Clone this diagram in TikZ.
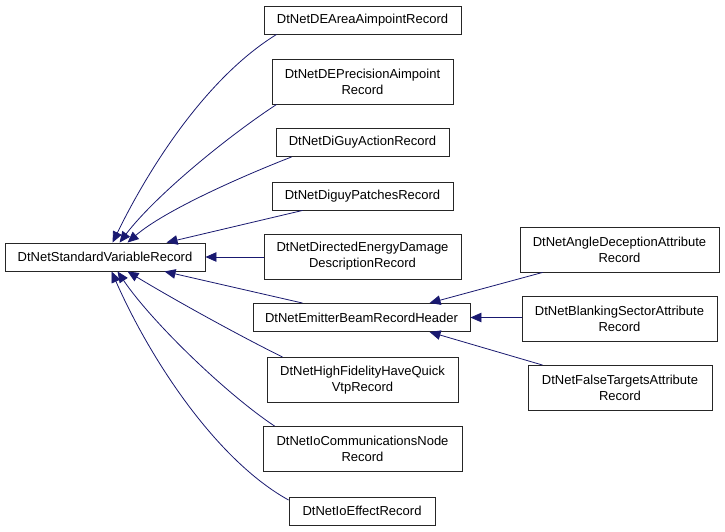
\documentclass[tikz,border=0pt]{standalone}
\usepackage{fontspec}
\setmainfont{Liberation Sans}
\usetikzlibrary{arrows.meta,calc}
\definecolor{edgeblue}{RGB}{25,25,112}
\tikzset{
  box/.style={draw=black!85, line width=0.9pt, fill=white, inner sep=0pt, align=center,
    font=\fontsize{13}{16}\selectfont},
  one/.style={minimum height=28pt},
  two/.style={minimum height=45pt},
  inh/.style={draw=edgeblue, line width=0.8pt, -{Triangle[length=11pt,width=9.5pt]}, fill=none},
}
\begin{document}
\begin{tikzpicture}[x=1pt,y=-1pt]
\useasboundingbox (0,0) rectangle (725,531);
\fill[white] (0,0) rectangle (725,531);
% nodes
\node[box,one,minimum width=200pt] (root) at (105,257) {DtNetStandardVariableRecord};
\node[box,one,minimum width=197pt] (dearea) at (362.5,20) {DtNetDEAreaAimpointRecord};
\node[box,two,minimum width=181pt] (deprec) at (362.5,81.5) {DtNetDEPrecisionAimpoint\\Record};
\node[box,one,minimum width=173pt] (diguy) at (362.5,142.5) {DtNetDiGuyActionRecord};
\node[box,one,minimum width=181pt] (patches) at (362.5,196) {DtNetDiguyPatchesRecord};
\node[box,two,minimum width=197pt] (directed) at (362.5,256.5) {DtNetDirectedEnergyDamage\\DescriptionRecord};
\node[box,one,minimum width=217pt] (emitter) at (361.5,317.5) {DtNetEmitterBeamRecordHeader};
\node[box,two,minimum width=191pt] (highfid) at (362.5,380) {DtNetHighFidelityHaveQuick\\VtpRecord};
\node[box,two,minimum width=199pt] (iocomm) at (362.5,449) {DtNetIoCommunicationsNode\\Record};
\node[box,one,minimum width=146pt] (ioeffect) at (362,511) {DtNetIoEffectRecord};
\node[box,two,minimum width=199pt] (angle) at (619.5,249.5) {DtNetAngleDeceptionAttribute\\Record};
\node[box,two,minimum width=195pt] (blank) at (619.5,318.5) {DtNetBlankingSectorAttribute\\Record};
\node[box,two,minimum width=184pt] (false) at (620,388) {DtNetFalseTargetsAttribute\\Record};
% edges
\draw[inh] ($(dearea.south west)+(13,0)$) .. controls (209,76) and (152,162) .. ($(root.north west)+(108,0)$);
\draw[inh] ($(deprec.south west)+(5,0)$) .. controls (227,137) and (156,195) .. ($(root.north west)+(115,0)$);
\draw[inh] ($(diguy.south west)+(16,0)$) .. controls (245,175) and (165,210) .. ($(root.north west)+(123,0)$);
\draw[inh] ($(patches.south west)+(31,0)$) -- ($(root.north west)+(162,0)$);
\draw[inh] (directed.west |- root.east) -- (root.east);
\draw[inh] ($(emitter.north west)+(50,0)$) -- ($(root.south west)+(160,0)$);
\draw[inh] ($(highfid.north west)+(16,0)$) .. controls (238,335) and (173,299) .. ($(root.south west)+(123,0)$);
\draw[inh] ($(iocomm.north west)+(12,0)$) .. controls (225,393) and (151,321) .. ($(root.south west)+(113,0)$);
\draw[inh] ($(ioeffect.west)+(0,-11)$) .. controls (218,461) and (152,363) .. ($(root.south west)+(107,0)$);
\draw[inh] ($(angle.south west)+(23,0)$) -- ($(emitter.north west)+(177,0)$);
\draw[inh] (blank.west |- emitter.east) -- (emitter.east);
\draw[inh] ($(false.north west)+(15,0)$) -- ($(emitter.south west)+(177,0)$);
\end{tikzpicture}
\end{document}
